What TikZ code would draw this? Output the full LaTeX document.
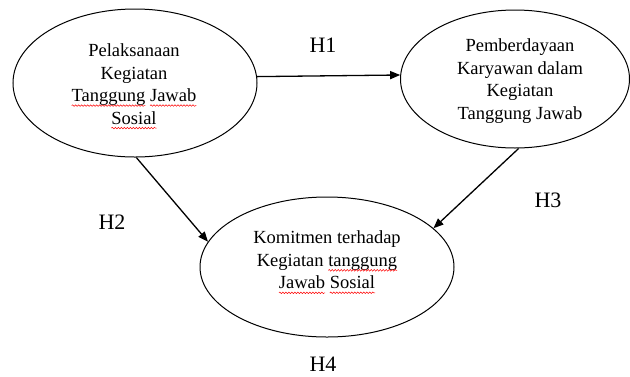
\documentclass[tikz,border=0pt]{standalone}
\usepackage{fontspec}
\setmainfont{Liberation Serif}
\usetikzlibrary{shapes.geometric,arrows.meta,decorations.pathmorphing}
\newcommand\sq[1]{\tikz[x=1pt,y=1pt,baseline=(w.base)]{\node[inner sep=0pt,outer sep=0pt,anchor=base,align=left] (w) {#1};
  \draw[overlay,red,line width=0.5pt,decorate,decoration={snake,amplitude=0.8pt,segment length=3pt}] ([yshift=-4pt]w.base west) -- ([yshift=-4pt]w.base east);}}
\tikzset{
  oval/.style={ellipse, draw, line width=1pt, inner sep=0pt},
  txt/.style={align=center, font=\fontsize{18.5}{22.5}\selectfont, inner sep=0pt},
  lbl/.style={font=\fontsize{22}{24}\selectfont, inner sep=0pt},
  arr/.style={-{Triangle[length=10pt,width=8pt]}, line width=1.3pt}
}
\begin{document}
\begin{tikzpicture}[x=1pt,y=-1pt]
\useasboundingbox (0,0) rectangle (630,376);
\node[oval, minimum width=244pt, minimum height=148pt] (A) at (135,83) {};
\node[oval, minimum width=229pt, minimum height=138pt] (B) at (515,79) {};
\node[oval, minimum width=254pt, minimum height=140pt] (C) at (327,267) {};
\node[txt] (tA) at (134,84) {Pelaksanaan\\Kegiatan\\\sq{Tanggung} \sq{Jawab}\\\sq{Sosial}};
\node[txt] (tB) at (520,81) {Pemberdayaan\\Karyawan dalam\\Kegiatan\\Tanggung Jawab};
\node[txt] (tC) at (327,260) {Komitmen terhadap\\Kegiatan \sq{tanggung}\\\sq{Jawab} \sq{Sosial}};
\node[lbl] (h1) at (323,45) {H1};
\node[lbl] (h2) at (112,222) {H2};
\node[lbl] (h3) at (548,200) {H3};
\node[lbl] (h4) at (323,364) {H4};
\draw[arr] (A.3.5) -- (B.178);
\draw[arr] (A.271) -- (C.168);
\draw[arr] (B.273) -- (C.20);
\end{tikzpicture}
\end{document}
